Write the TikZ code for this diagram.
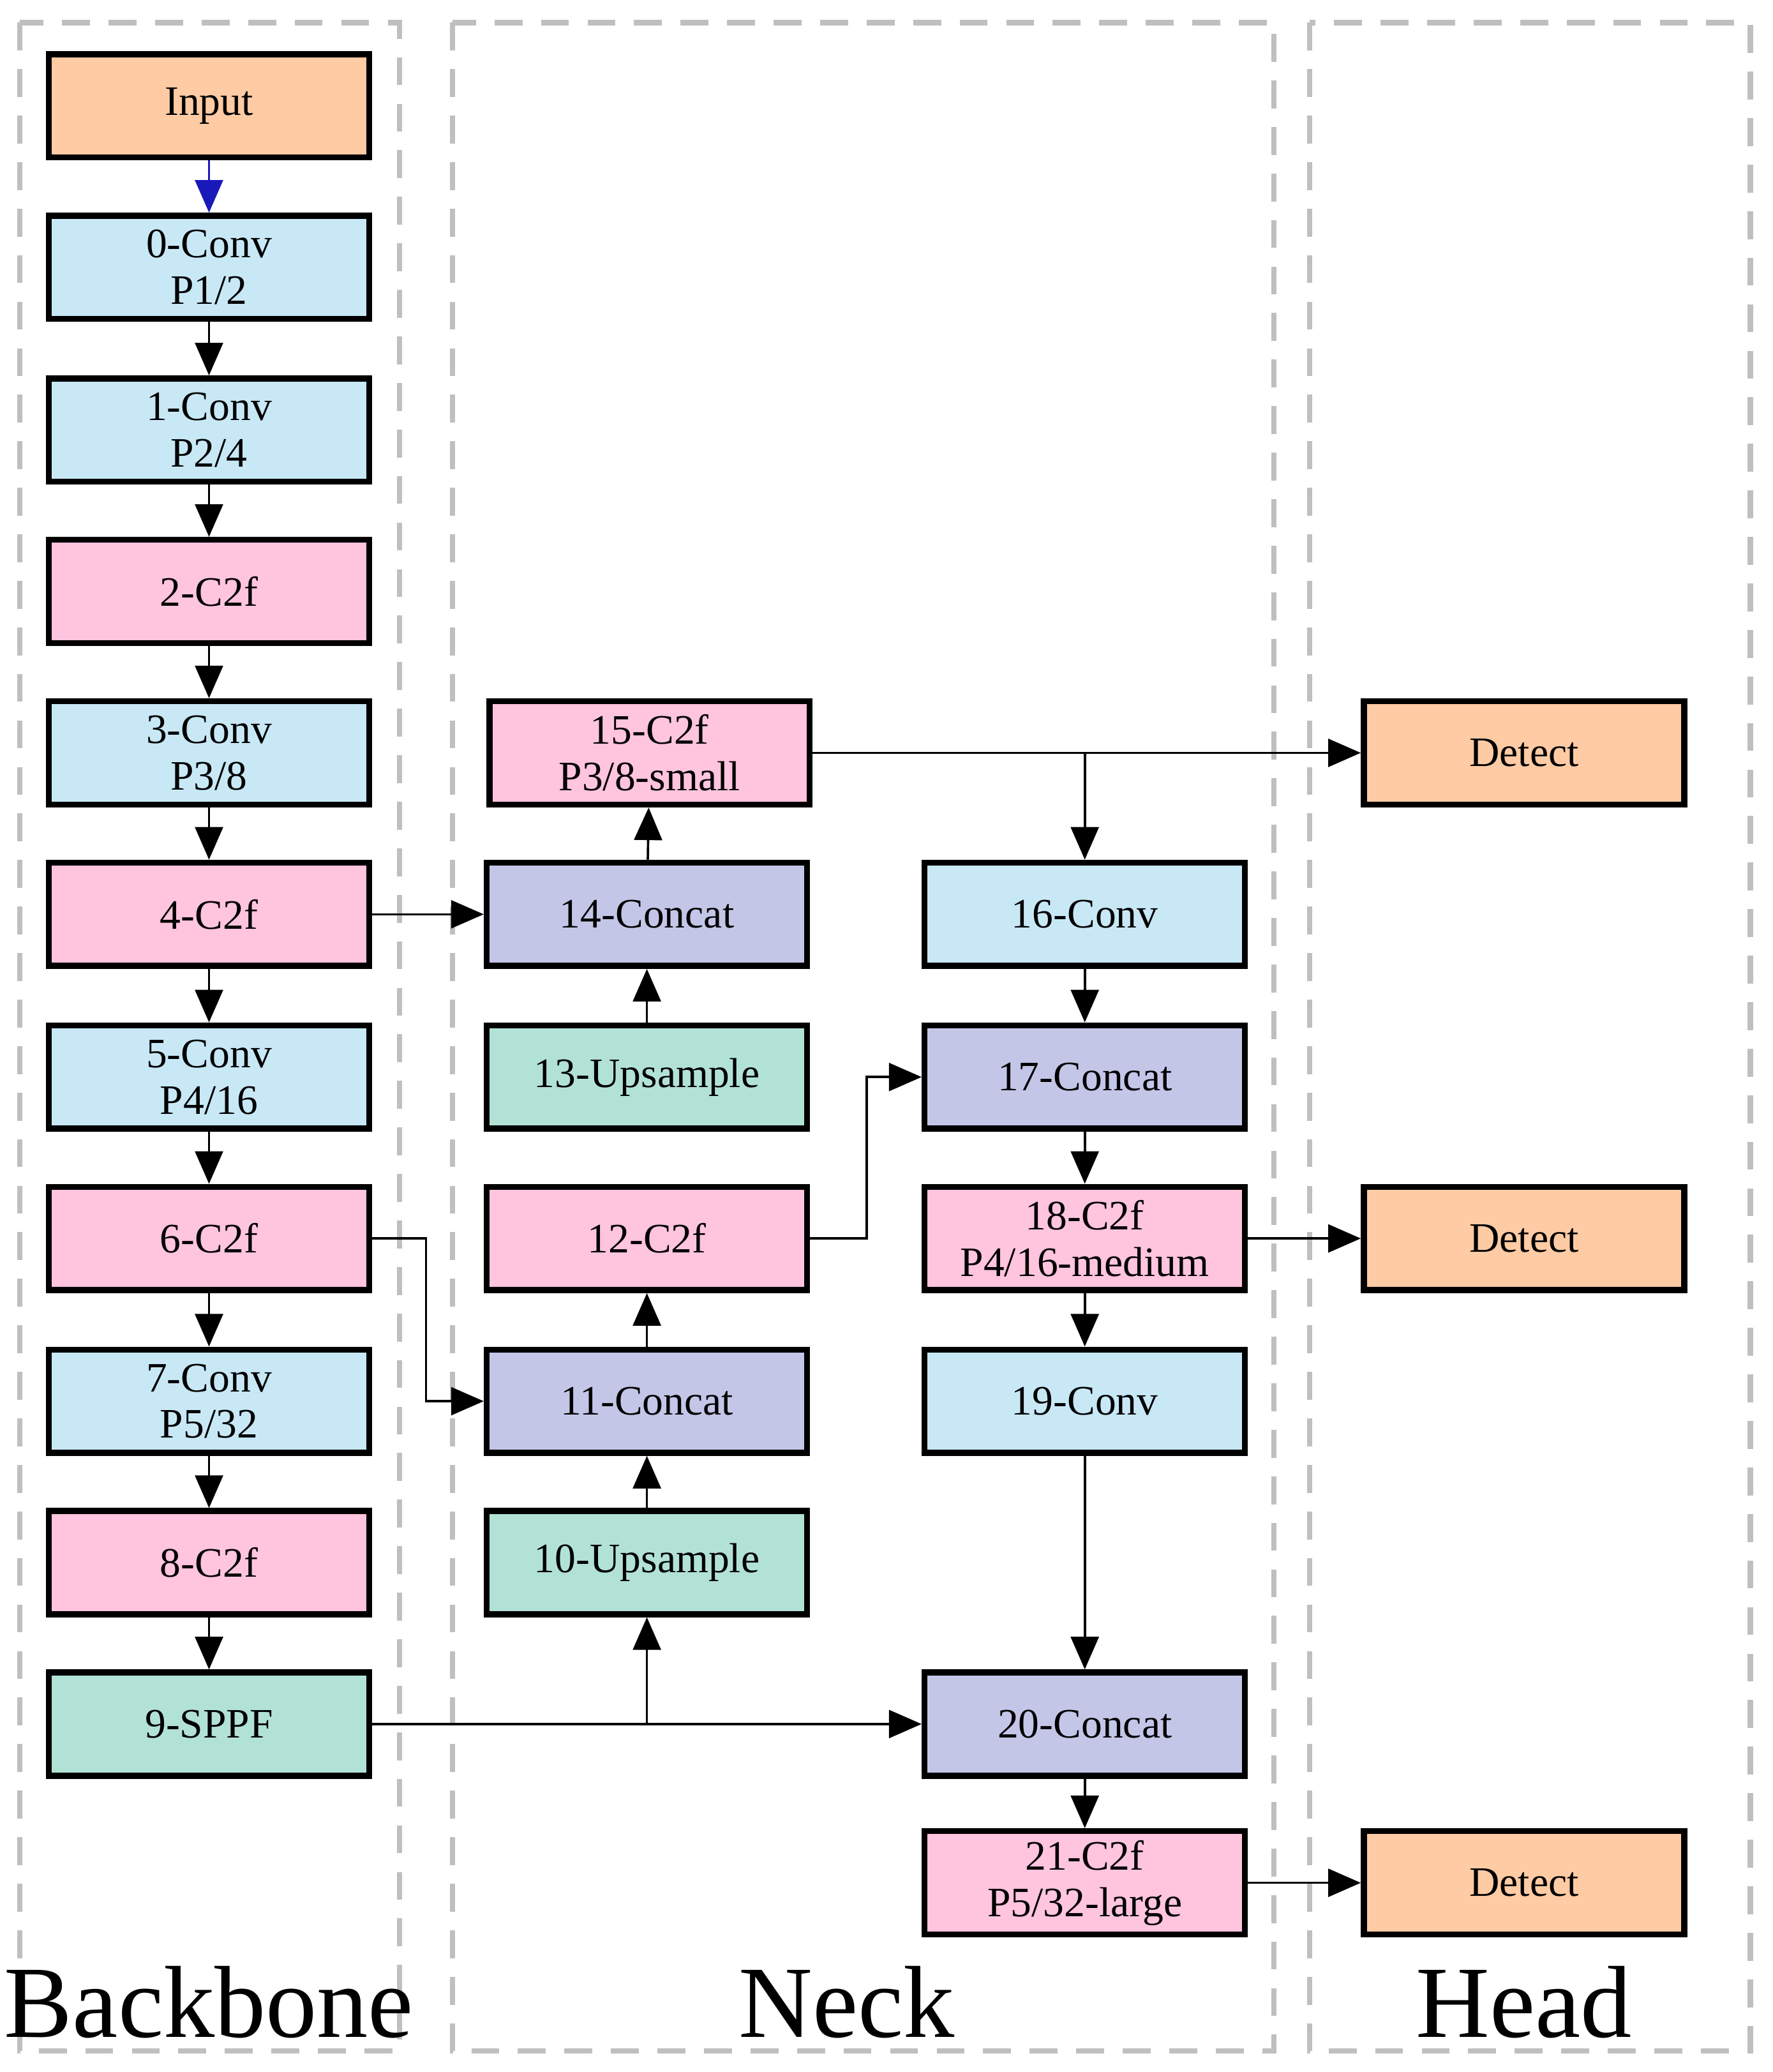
\documentclass[tikz,border=0pt]{standalone}
\usepackage{fontspec}
\setmainfont{Liberation Serif}
\usetikzlibrary{arrows.meta}
\definecolor{inorange}{HTML}{FFCBA4}
\definecolor{convblue}{HTML}{C8E8F6}
\definecolor{cpink}{HTML}{FFC4DE}
\definecolor{catpurple}{HTML}{C4C6E8}
\definecolor{upgreen}{HTML}{B2E2D5}
\begin{document}
\begin{tikzpicture}[x=0.01cm, y=-0.01cm,
    main node/.style={draw, line width=1.3pt, minimum width=2.42cm, minimum height=0.78cm, inner sep=0pt, align=center, font=\fontsize{9}{10}\selectfont},
    conv/.style={main node, fill=convblue},
    c2f/.style={main node, fill=cpink},
    concat/.style={main node, fill=catpurple},
    up/.style={main node, fill=upgreen},
    io node/.style={main node, fill=inorange},
    panel/.style={draw=black!25, line width=1.2pt, dash pattern=on 6pt off 4pt},
    arr/.style={-{Triangle[length=7pt, width=6pt]}, line width=0.5pt}]

    \useasboundingbox (0,0) rectangle (1340,1566);

    % Panels
    \draw[panel] (15,17) rectangle (302,1550);
    \draw[panel] (342,17) rectangle (963,1550);
    \draw[panel] (990,17) rectangle (1323,1550);
    \node[font=\fontsize{22}{24}\selectfont] (lb) at (158,1513) {Backbone};
    \node[font=\fontsize{22}{24}\selectfont] (ln) at (640,1513) {Neck};
    \node[font=\fontsize{22}{24}\selectfont] (lh) at (1152,1513) {Head};

    % Backbone
    \node[io node] (in) at (158,80) {Input};
    \node[conv] (b0) at (158,202) {0-Conv\\P1/2};
    \node[conv] (b1) at (158,325) {1-Conv\\P2/4};
    \node[c2f] (b2) at (158,447) {2-C2f};
    \node[conv] (b3) at (158,569) {3-Conv\\P3/8};
    \node[c2f] (b4) at (158,691) {4-C2f};
    \node[conv] (b5) at (158,814) {5-Conv\\P4/16};
    \node[c2f] (b6) at (158,936) {6-C2f};
    \node[conv] (b7) at (158,1059) {7-Conv\\P5/32};
    \node[c2f] (b8) at (158,1181) {8-C2f};
    \node[up] (b9) at (158,1303) {9-SPPF};

    % Neck
    \node[c2f] (n15) at (491,569) {15-C2f\\P3/8-small};
    \node[concat] (n14) at (489,691) {14-Concat};
    \node[up] (n13) at (489,814) {13-Upsample};
    \node[c2f] (n12) at (489,936) {12-C2f};
    \node[concat] (n11) at (489,1059) {11-Concat};
    \node[up] (n10) at (489,1181) {10-Upsample};
    \node[conv] (n16) at (820,691) {16-Conv};
    \node[concat] (n17) at (820,814) {17-Concat};
    \node[c2f] (n18) at (820,936) {18-C2f\\P4/16-medium};
    \node[conv] (n19) at (820,1059) {19-Conv};
    \node[concat] (n20) at (820,1303) {20-Concat};
    \node[c2f] (n21) at (820,1423) {21-C2f\\P5/32-large};

    % Head
    \node[io node] (d1) at (1152,569) {Detect};
    \node[io node] (d2) at (1152,936) {Detect};
    \node[io node] (d3) at (1152,1423) {Detect};

    \coordinate (j1) at (820,569);
    \coordinate (j2) at (489,1303);

    % Connectors
    \draw[arr, blue!70!black!90] (in) -- (b0);
    \foreach \a/\b in {b0/b1, b1/b2, b2/b3, b3/b4, b4/b5, b5/b6, b6/b7, b7/b8, b8/b9,
        n10/n11, n11/n12, n13/n14, n14/n15, n16/n17, n17/n18, n18/n19, n19/n20, n20/n21,
        b4/n14, b9/n20, n15/d1, n18/d2, n21/d3}
        \draw[arr] (\a) -- (\b);
    \draw[arr] (j1) -- (n16);
    \draw[arr] (j2) -- (n10);
    \draw[arr] (b6.east) -- (322,936) |- (n11.west);
    \draw[arr] (n12.east) -- (655,936) |- (n17.west);

\end{tikzpicture}
\end{document}
